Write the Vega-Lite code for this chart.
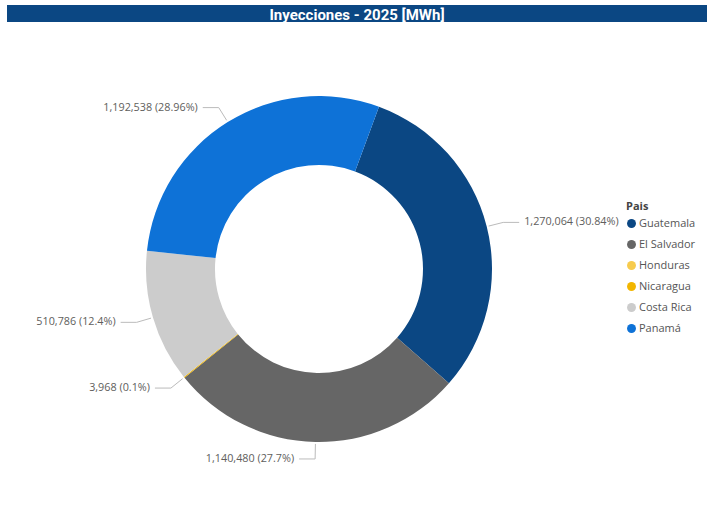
{
  "$schema": "https://vega.github.io/schema/vega-lite/v6.json",
  "padding": {"left": 7, "top": 5, "right": 6, "bottom": 0},
  "background": "white",
  "spacing": 0,
  "config": {"view": {"stroke": null}, "font": "Open Sans"},
  "vconcat": [
    {
      "width": 700,
      "height": 17,
      "view": {"fill": "#0B4783", "stroke": null},
      "data": {"values": [{"titulo": "Inyecciones - 2025 [MWh]"}]},
      "mark": {"type": "text", "color": "white", "font": "Roboto", "fontWeight": "bold", "fontSize": 15, "baseline": "middle", "align": "center", "dy": 1},
      "encoding": {"text": {"field": "titulo"}}
    },
    {
      "width": 624,
      "height": 492,
      "data": {"values": [
        {"pais": "Guatemala", "value": 1270064},
        {"pais": "El Salvador", "value": 1140480},
        {"pais": "Honduras", "value": 0},
        {"pais": "Nicaragua", "value": 3968},
        {"pais": "Costa Rica", "value": 510786},
        {"pais": "Panamá", "value": 1192538}
      ]},
      "transform": [
        {"window": [{"op": "row_number", "as": "idx"}]},
        {"joinaggregate": [{"op": "sum", "field": "value", "as": "total"}]},
        {"stack": "value", "groupby": [], "sort": [{"field": "idx"}], "as": ["v0", "v1"]},
        {"calculate": "0.354 + PI * (datum.v0 + datum.v1) / datum.total", "as": "ang"},
        {"calculate": "sin(datum.ang) >= 0 ? 1 : -1", "as": "side"},
        {"calculate": "175 * sin(datum.ang)", "as": "x1"},
        {"calculate": "175 * cos(datum.ang)", "as": "y1"},
        {"calculate": "190 * sin(datum.ang)", "as": "x2"},
        {"calculate": "190 * cos(datum.ang)", "as": "y2"},
        {"calculate": "datum.x2 + datum.side * 16", "as": "x3"},
        {"calculate": "datum.x3 + datum.side * 5", "as": "xt"},
        {"calculate": "format(datum.value, ',') + ' (' + toString(round(datum.value / datum.total * 10000) / 100) + '%)'", "as": "etiqueta"}
      ],
      "layer": [
        {
          "mark": {"type": "arc", "outerRadius": 173, "innerRadius": 104},
          "encoding": {
            "theta": {"field": "value", "type": "quantitative", "stack": true, "scale": {"range": [0.354, 6.6372]}},
            "color": {
              "field": "pais", "type": "nominal", "title": "Pais",
              "scale": {
                "domain": ["Guatemala", "El Salvador", "Honduras", "Nicaragua", "Costa Rica", "Panamá"],
                "range": ["#0B4783", "#666666", "#F7CB4D", "#F2B600", "#CCCCCC", "#0E72D7"]
              },
              "legend": {
                "orient": "none", "legendX": 619, "legendY": 196,
                "symbolType": "circle", "symbolSize": 80, "symbolStrokeWidth": 0,
                "titleFont": "Open Sans", "titleFontSize": 11, "titleFontWeight": "bold", "titleColor": "#444444",
                "labelFont": "Open Sans", "labelFontSize": 11, "labelColor": "#555555",
                "labelOffset": 2, "rowPadding": 9, "titlePadding": 6
              }
            },
            "order": {"field": "idx", "type": "quantitative"}
          }
        },
        {
          "transform": [{"filter": "datum.value > 0"}],
          "mark": {"type": "rule", "color": "#BBBBBB", "strokeWidth": 1},
          "encoding": {
            "x": {"field": "x1", "type": "quantitative", "scale": {"domain": [-312, 312], "nice": false, "zero": false}, "axis": null},
            "y": {"field": "y1", "type": "quantitative", "scale": {"domain": [-246, 246], "nice": false, "zero": false}, "axis": null},
            "x2": {"field": "x2"},
            "y2": {"field": "y2"}
          }
        },
        {
          "transform": [{"filter": "datum.value > 0"}],
          "mark": {"type": "rule", "color": "#BBBBBB", "strokeWidth": 1},
          "encoding": {
            "x": {"field": "x2", "type": "quantitative"},
            "y": {"field": "y2", "type": "quantitative"},
            "x2": {"field": "x3"}
          }
        },
        {
          "transform": [{"filter": "datum.value > 0 && datum.side > 0"}],
          "mark": {"type": "text", "align": "left", "baseline": "middle", "fontSize": 10.8, "color": "#605E5C", "font": "Open Sans"},
          "encoding": {
            "x": {"field": "xt", "type": "quantitative"},
            "y": {"field": "y2", "type": "quantitative"},
            "text": {"field": "etiqueta"}
          }
        },
        {
          "transform": [{"filter": "datum.value > 0 && datum.side < 0"}],
          "mark": {"type": "text", "align": "right", "baseline": "middle", "fontSize": 10.8, "color": "#605E5C", "font": "Open Sans"},
          "encoding": {
            "x": {"field": "xt", "type": "quantitative"},
            "y": {"field": "y2", "type": "quantitative"},
            "text": {"field": "etiqueta"}
          }
        }
      ]
    }
  ]
}
